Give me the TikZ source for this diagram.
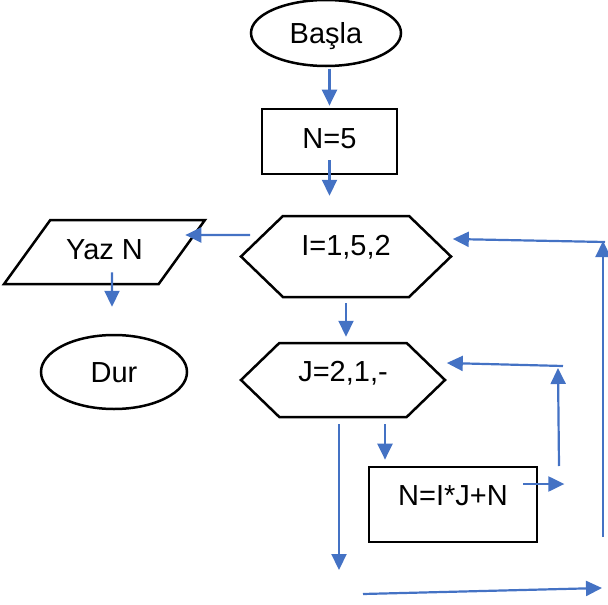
\documentclass[tikz,border=0pt]{standalone}
\usepackage{fontspec}
\setmainfont{Liberation Sans}
\usetikzlibrary{calc,arrows.meta,shapes.geometric,shapes.symbols}
\definecolor{flowblue}{HTML}{4472C4}

\begin{document}
\begin{tikzpicture}[x=1pt,y=-1pt,
  font=\fontsize{29}{34}\selectfont,
  every node/.style={inner sep=0pt,text height=21pt,text depth=0pt},
  terminal/.style={draw,ellipse,line width=2.5pt},
  process/.style={draw,rectangle,line width=2.7pt},
  loopbox/.style={draw,signal,signal to=west and east,signal pointer angle=88,line width=2.5pt},
  iobox/.style={draw,trapezium,trapezium stretches=true,trapezium left angle=40,trapezium right angle=140,line width=2.5pt},
  flow/.style={draw=flowblue,line width=2.2pt,-{Triangle[length=16pt,width=15pt]}}]
\useasboundingbox (0,0) rectangle (608,605);
% draw the boxes
\node[terminal,minimum width=150pt,minimum height=66pt] (basla) at (326,33) {Başla};
\node[process,minimum width=135pt,minimum height=65pt,text depth=6.5pt] (nfive) at (329.5,141.5) {N=5};
\node[loopbox,minimum width=210pt,minimum height=81pt,text depth=22.5pt] (ione) at (346,256.5) {I=1,5,2};
\node[iobox,minimum width=201pt,minimum height=64pt,text depth=6.5pt] (yaz) at (104.5,252) {Yaz N};
\node[terminal,minimum width=146pt,minimum height=74pt] (dur) at (114,372) {Dur};
\node[loopbox,minimum width=204pt,minimum height=74pt,text depth=18.5pt] (jtwo) at (343,380) {J=2,1,-};
\node[process,minimum width=168pt,minimum height=75pt,text depth=18.5pt] (nsum) at (453,504.5) {N=I*J+N};

% loose ends of the loops
\coordinate (jback) at (563,366);
\coordinate (jloop) at (559,466);
\coordinate (iexit) at (339,570);
\coordinate (iback) at (363,594);
\coordinate (inext) at (602,588);
\coordinate (iup) at (603,537);
\coordinate (itop) at (603,241);

% the arrows
\draw[flow] ($(nfive.north)+(0,-39)$) -- ($(nfive.north)+(0,-2)$);
\draw[flow] ($(nfive.south)+(0,-15)$) -- ($(ione.north)+(-16.5,-19)$);
\draw[flow] ($(ione.west)+(11,-21.5)$) -- ($(yaz.east)+(2,-17)$);
\draw[flow] ($(yaz.south)+(7.5,-13)$) -- ($(dur.north)+(-2,-27)$);
\draw[flow] ($(ione.south)+(0,5)$) -- ($(jtwo.north)+(3,-5)$);
\draw[flow] (jback) -- ($(jtwo.east)+(0,-17)$);
\draw[flow] (jloop) -- ($(jback)+(-5,2)$);
\draw[flow] ($(nsum.east)+(-15,-20.5)$) -- ++(41,0);
\draw[flow] ($(jtwo.south)+(42,6)$) -- ($(nsum.north)+(-68,-6)$);
\draw[flow] ($(jtwo.south)+(-4,6)$) -- (iexit);
\draw[flow] (iback) -- (inext);
\draw[flow] (iup) -- (itop);
\draw[flow] ($(itop)+(2,1)$) -- ($(ione.east)+(0,-17.5)$);
\end{tikzpicture}
\end{document}
